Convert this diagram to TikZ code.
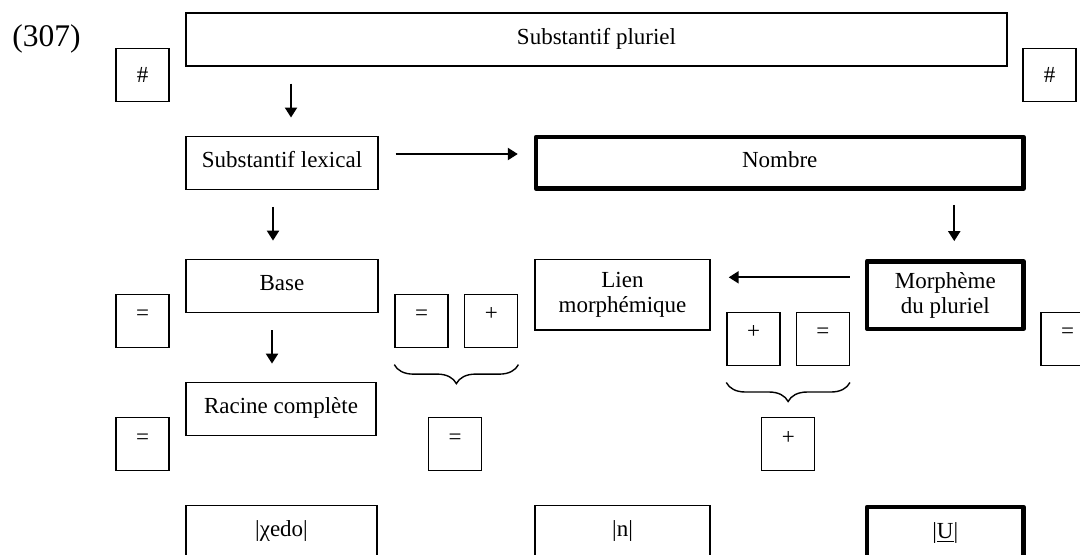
\documentclass[tikz,border=0pt]{standalone}
\usepackage{fontspec}
\setmainfont{Liberation Serif}
\usetikzlibrary{arrows.meta,decorations.pathreplacing}

\begin{document}
\begin{tikzpicture}[x=0.5pt,y=-0.5pt,
    cadre/.style={draw,line width=0.7pt,inner sep=0pt,minimum height=26.5pt,
      font=\fontsize{11.5}{12.5}\selectfont,text height=8.5pt,text depth=4pt},
    cadregras/.style={cadre,line width=2.2pt,line join=round},
    signe/.style={draw,line width=0.7pt,inner sep=0pt,minimum width=26.5pt,
      minimum height=26.5pt,font=\fontsize{11.5}{12.5}\selectfont},
    op/.style={signe,text height=4.5pt,text depth=4.5pt},
    fleche/.style={line width=1.1pt,-{Triangle[length=5pt,width=6pt]},
      shorten <=8.5pt,shorten >=9pt},
    accolade/.style={line width=0.7pt,decorate,
      decoration={brace,mirror,amplitude=9.5pt}}]
    \useasboundingbox (0,0) rectangle (1080,554);

    \node[anchor=base west,inner sep=0pt,font=\fontsize{15.75}{18}\selectfont] (num) at (12,46.7) {(307)};

    \node[cadre,minimum width=410.5pt] (pluriel) at (596.5,39.5) {Substantif pluriel};
    \node[signe] (d1) at (142.5,74.7) {\#};
    \node[signe] (d2) at (1049.5,74.7) {\#};

    \node[cadre,minimum width=96pt]      (lex)    at (282,162.7)    {Substantif lexical};
    \node[cadregras,minimum width=243.75pt,minimum height=25.85pt] (nombre) at (779.75,162.8) {Nombre};

    \node[cadre,minimum width=96pt]      (base)   at (282,285.8)    {Base};
    \node[cadre,text height=,text depth=,align=center,minimum width=87.5pt,minimum height=35.35pt]
        (lien) at (622.5,294.7) {Lien\\morphémique};
    \node[cadregras,text height=,text depth=,align=center,minimum width=78.25pt,minimum height=33.7pt]
        (morph) at (945.25,295) {Morphème\\du pluriel};

    \node[op] (eq1)   at (142.5,320.8)  {=};
    \node[op] (eq2)   at (421.5,320.8)  {=};
    \node[op] (plus1) at (491.25,320.8) {+};
    \node[op] (plus2) at (753.5,338.7)  {+};
    \node[op] (eq3)   at (822.75,338.7) {=};
    \node[op] (eq4)   at (1067.5,338.7) {=};

    \node[cadre,minimum width=95pt] (racine) at (281,408.8) {Racine complète};
    \node[op] (eq5)   at (142.5,444)    {=};
    \node[op] (eq6)   at (455,444)      {=};
    \node[op] (plus3) at (788.25,444)   {+};

    \node[cadre,minimum width=95.5pt] (chedo) at (281.5,532.2) {|χedo|};
    \node[cadre,minimum width=87.5pt] (n)     at (622.5,532.2) {|n|};
    \node[cadregras,minimum width=78.25pt] (u) at (945.25,533.5) {|\underline{U}|};

    \coordinate (p1) at ([xshift=4.5pt]lex.north);
    \coordinate (p2) at ([xshift=-4.5pt]base.north);
    \coordinate (p3) at ([xshift=-4.5pt]racine.north);
    \coordinate (p4) at ([xshift=4.5pt]morph.north);
    \coordinate (h1) at ([yshift=4.35pt]lex.east);
    \coordinate (h2) at ([yshift=8.85pt]morph.west);

    \draw[fleche] (pluriel.south -| p1) -- (p1);
    \draw[fleche] (lex.south -| p2) -- (p2);
    \draw[fleche] (base.south -| p3) -- (p3);
    \draw[fleche,shorten <=7pt] (nombre.south -| p4) -- (p4);
    \draw[fleche,shorten >=8pt] (h1) -- (h1 -| nombre.west);
    \draw[fleche,shorten <=7.5pt] (h2) -- (h2 -| lien.east);

    \draw[accolade] ([yshift=-8.3pt]eq2.south west) -- ([yshift=-8.3pt]plus1.south east);
    \draw[accolade] ([yshift=-8.3pt]plus2.south west) -- ([yshift=-8.3pt]eq3.south east);
\end{tikzpicture}
\end{document}
